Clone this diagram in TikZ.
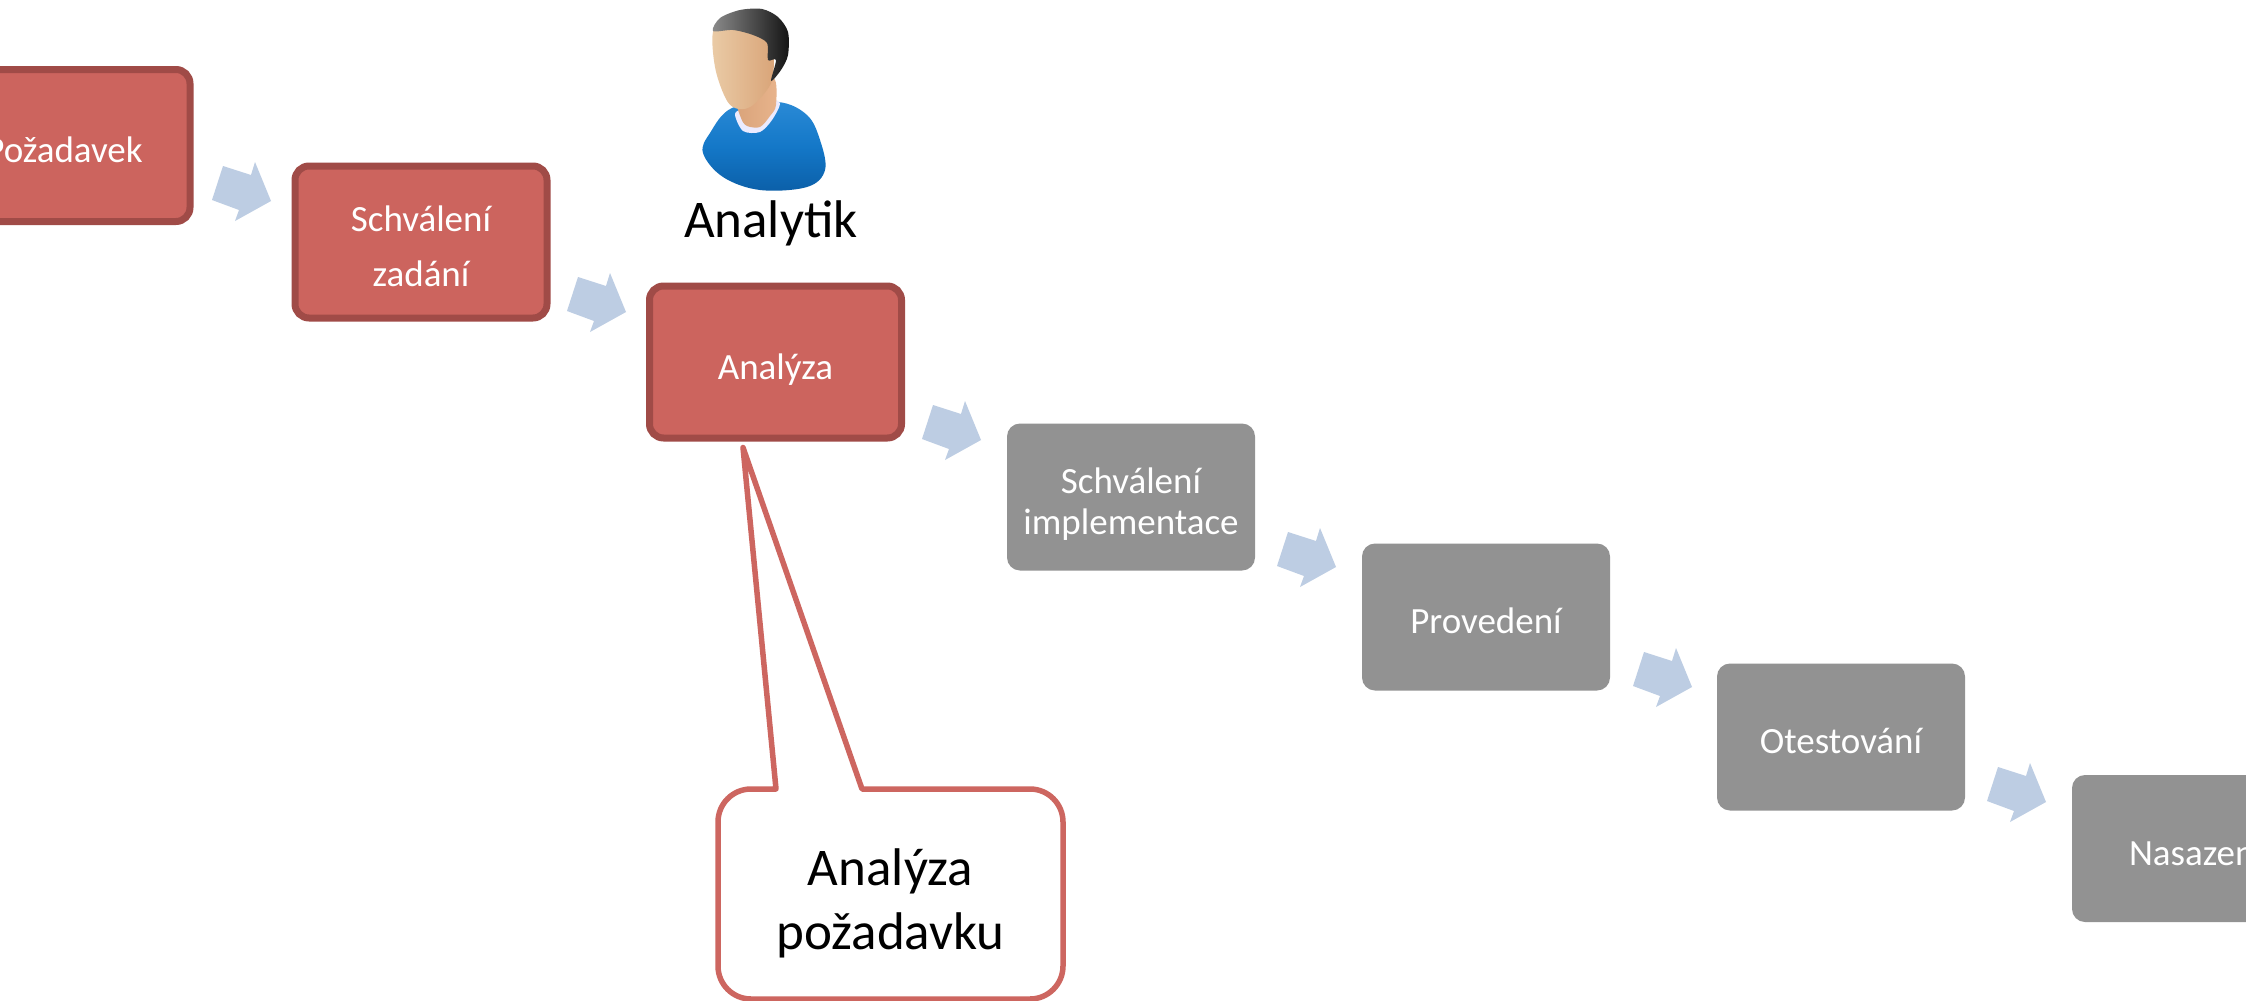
\documentclass[tikz,border=0pt]{standalone}
\usepackage{fontspec}
\setmainfont{Carlito}
\definecolor{redfill}{HTML}{CC645E}
\definecolor{redline}{HTML}{A04B47}
\definecolor{grayfill}{HTML}{929292}
\definecolor{arrowblue}{HTML}{BDCDE3}
\definecolor{calloutline}{HTML}{CD6660}
\definecolor{shirtA}{HTML}{1478C8}
\definecolor{shirtC}{HTML}{2A8AD6}
\definecolor{shirtE}{HTML}{0B5FA8}
\definecolor{skinA}{HTML}{EACBA6}
\definecolor{skinB}{HTML}{D9A478}
\definecolor{neckA}{HTML}{D9A37A}
\definecolor{neckB}{HTML}{E8B48C}
\definecolor{hairA}{HTML}{8C8C8C}
\definecolor{hairB}{HTML}{141414}
\tikzset{
  redbox/.style={draw=redline,line width=7pt,fill=redfill,rounded corners=14pt,minimum width=252pt,minimum height=152pt,inner sep=0pt,text=white,font=\fontsize{37}{41}\selectfont,align=center},
  graybox/.style={fill=grayfill,rounded corners=13pt,minimum width=248pt,minimum height=147pt,inner sep=0pt,text=white,font=\fontsize{37}{41}\selectfont,align=center},
  flowshape/.style={fill=arrowblue,draw=none},
  bigtext/.style={font=\fontsize{53}{64}\selectfont,text=black,align=center,inner sep=0pt}
}
\newcommand{\flowarrow}[2]{%
  \fill[flowshape,shift={(#1,#2)}] (-48,-35) -- (-20,-26) -- (-16,-39) -- (0,0) -- (-36,20) -- (-32,9) -- (-59,-1) -- cycle;}
\newcommand{\dn}[2][8pt]{\raisebox{0pt}[\dimexpr\height+#1\relax]{#2}}
\begin{document}
\begin{tikzpicture}[x=1pt,y=-1pt]
\useasboundingbox (0,0) rectangle (2246,1001);
\clip (0,0) rectangle (2246,1001);
\fill[white] (0,0) rectangle (2246,1001);
% process boxes
\node[redbox] (poz) at (64,145.5) {\dn{Požadavek}};
\node[redbox] (zad) at (421,242) {\dn{Schválení}\\[14pt]zadání};
\node[redbox] (ana) at (775.5,362) {\dn[16pt]{Analýza}};
\node[graybox] (imp) at (1131,497) {\dn[15pt]{Schválení}\\implementace};
\node[graybox] (pro) at (1486,617) {\dn{Provedení}};
\node[graybox] (ote) at (1841,737) {\dn{Otestování}};
\node[graybox] (nas) at (2196,848.5) {\dn{Nasazení}};
% arrows between boxes
\flowarrow{271}{201}
\flowarrow{626}{312}
\flowarrow{981}{440}
\flowarrow{1336}{567}
\flowarrow{1692}{687}
\flowarrow{2046}{802}
% person
\begin{scope}
  \path[top color=shirtC,bottom color=shirtE,middle color=shirtA]
    plot[smooth cycle,tension=.6] coordinates {(703,153) (710,133) (732,108) (778,102) (807,115) (820,140) (825,170) (807,187) (760,190) (723,177)};
  \fill[white!92!blue] plot[smooth cycle,tension=.5] coordinates {(735,114) (743,131) (760,132) (772,120) (780,104) (772,100) (745,108)};
  \path[left color=neckA,right color=neckB]
    plot[smooth cycle,tension=.5] coordinates {(739,100) (741,118) (747,126) (760,127) (770,116) (776,105) (773,78)};
  \path[left color=skinA,right color=skinB]
    plot[smooth cycle,tension=.6] coordinates {(713,32) (715,67) (725,97) (735,108) (750,107) (767,90) (773,75) (772,50) (755,25) (725,25)};
  \path[left color=hairA,right color=hairB]
    plot[smooth cycle,tension=.5] coordinates {(713,31) (720,18) (740,10) (762,9) (778,17) (788,32) (788,55) (781,70) (771,81) (776,60) (768,60) (767,43) (753,35) (733,30)};
\end{scope}
\node[bigtext] (who) at (771,223) {Analytik};
% callout
\coordinate (tip) at (743,447.5);
\coordinate (baseL) at (776,789);
\coordinate (baseR) at (862,789);
\draw[calloutline,line width=5.5pt,line join=round,fill=white]
  (tip) -- (baseL) [rounded corners=33pt] -- (718,789) -- (718,999) -- (1063,999) -- (1063,789) [sharp corners] -- (baseR) -- cycle;
\node[bigtext] (txt) at (890.5,903) {Analýza\\požadavku};
\end{tikzpicture}
\end{document}
